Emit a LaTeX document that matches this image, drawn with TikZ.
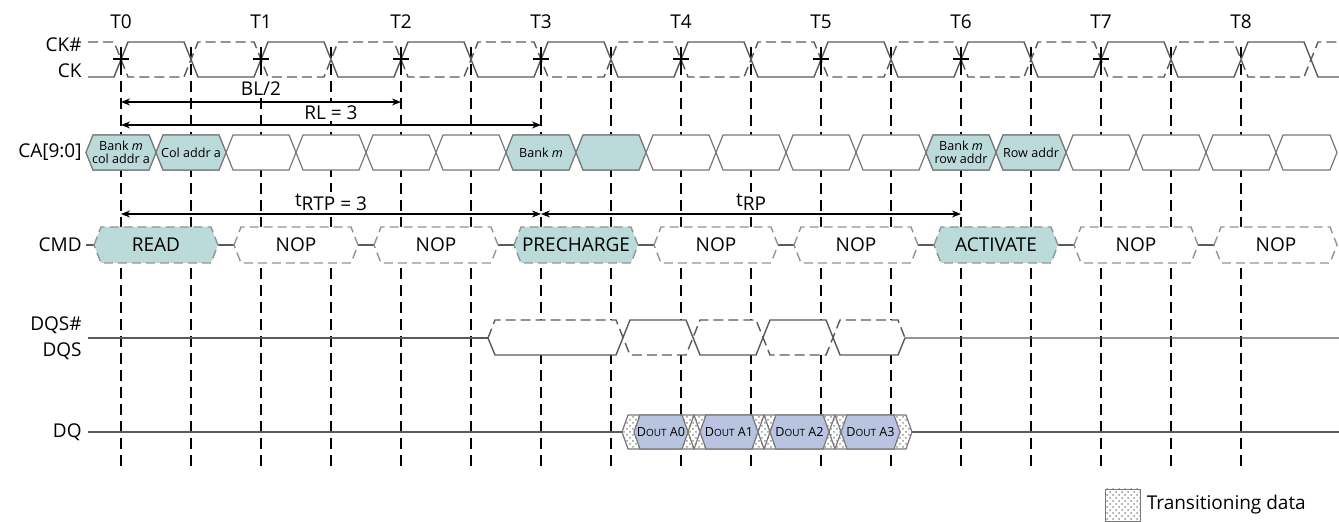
\documentclass[tikz,border=0pt]{standalone}
\usepackage{fontspec}
\setmainfont{Open Sans}
\usetikzlibrary{arrows.meta,patterns,positioning}

\definecolor{tealbox}{RGB}{186,219,218}
\definecolor{doutbox}{RGB}{185,197,224}
\definecolor{wavegray}{RGB}{90,90,90}
\definecolor{boxgray}{RGB}{120,120,120}

\begin{document}
\begin{tikzpicture}[x=0.5pt,y=-0.5pt,>={Stealth[length=4.5pt,width=3.5pt]},
    font=\fontsize{9.5}{11}\selectfont,
    sig/.style={anchor=east,inner sep=0pt},
    tline/.style={black,line width=0.7pt,dash pattern=on 5.5pt off 3pt},
    wave/.style={draw=wavegray,line width=0.7pt},
    wavedash/.style={wave,dash pattern=on 5pt off 2.5pt},
    cabox/.style={draw=boxgray,line width=0.6pt,fill=white},
    cmdbox/.style={draw=boxgray!80,line width=0.7pt,fill=white,dash pattern=on 4.5pt off 2.5pt},
    dim/.style={<->,black,line width=0.6pt},
    dimlabel/.style={fill=white,inner sep=1pt},
    small/.style={font=\fontsize{6.3}{6.7}\selectfont,inner sep=0pt,align=center},
    trans/.style={preaction={fill=white},pattern=crosshatch dots,pattern color=gray!85},
  ]
  \useasboundingbox (0,0) rectangle (1339,522);

  % clock labels and signal names
  \foreach \i in {0,...,8} \node (t\i) at (121+140*\i,22) {T\i};
  \node[sig] (ckn) at (82,45) {CK\#};
  \node[sig] (ck) at (82,71) {CK};
  \node[sig] (ca) at (82,152) {CA[9:0]};
  \node[sig] (cmd) at (82,245) {CMD};
  \node[sig] (dqsn) at (82,325) {DQS\#};
  \node[sig] (dqs) at (82,351) {DQS};
  \node[sig] (dq) at (82,432) {DQ};

  % edge lines
  \foreach \i in {0,...,16} \draw[tline] (121+70*\i,47) -- (121+70*\i,466);

  % CK / CK#
  \draw[wave] (88,77) \foreach \i in {0,...,8} {-- (114+140*\i,77) -- (128+140*\i,42) -- (184+140*\i,42) -- (198+140*\i,77)} -- (1339,77);
  \draw[wavedash] (88,42) \foreach \i in {0,...,8} {-- (114+140*\i,42) -- (128+140*\i,77) -- (184+140*\i,77) -- (198+140*\i,42)} -- (1339,42);
  \foreach \i in {0,...,7} \draw[black,line width=0.6pt] (113+140*\i,59) -- (129+140*\i,59) (121+140*\i,48) -- (121+140*\i,70);

  % CA bus
  \foreach \i in {0,...,16} \draw[cabox] (86+70*\i,152.5) -- (93+70*\i,135) -- (149+70*\i,135) -- (156+70*\i,152.5) -- (149+70*\i,170) -- (93+70*\i,170) -- cycle;
  \draw[cabox] (1276,152.5) -- (1283,135) -- (1330,135) -- (1337,152.5) -- (1330,170) -- (1283,170) -- cycle;
  \foreach \i/\txt in {0/{Bank \textit{m}\\col addr a},1/{Col addr a},6/{Bank \textit{m}},7/{},12/{Bank \textit{m}\\row addr},13/{Row addr}} {
    \draw[cabox,fill=tealbox] (86+70*\i,152.5) -- (93+70*\i,135) -- (149+70*\i,135) -- (156+70*\i,152.5) -- (149+70*\i,170) -- (93+70*\i,170) -- cycle;
    \node[small] (ca\i) at (121+70*\i,152.5) {\txt};
  }

  % timing arrows
  \coordinate (bl-l) at (121,102); \coordinate (bl-r) at (401,102);
  \coordinate (rl-l) at (121,125); \coordinate (rl-r) at (541,125);
  \coordinate (rtp-l) at (121,214); \coordinate (rtp-r) at (541,214);
  \coordinate (rp-r) at (961,214);
  \draw[dim] (bl-l) -- node[dimlabel,above=2pt] (bl) {BL/2} (bl-r);
  \draw[dim] (rl-l) -- node[dimlabel,above=1.5pt] (rl) {RL = 3} (rl-r);
  \draw[dim] (rtp-l) -- node[dimlabel,above=0.5pt] (rtp) {t\raisebox{-0.4ex}{RTP = 3}} (rtp-r);
  \draw[dim] (rtp-r) -- node[dimlabel,above=0.5pt] (rp) {t\raisebox{-0.4ex}{RP}} (rp-r);

  % CMD bus
  \draw[wave] (86,245) -- (94,245);
  \foreach \i in {0,...,7} \draw[wave] (218+140*\i,245) -- (234+140*\i,245);
  \foreach \i/\op/\fc in {0/READ/tealbox,1/NOP/white,2/NOP/white,3/PRECHARGE/tealbox,4/NOP/white,5/NOP/white,6/ACTIVATE/tealbox,7/NOP/white} {
    \draw[cmdbox,fill=\fc] (94+140*\i,245) -- (101+140*\i,227) -- (211+140*\i,227) -- (218+140*\i,245) -- (211+140*\i,263) -- (101+140*\i,263) -- cycle;
    \node (cmd\i) at (156+140*\i,245) {\op};
  }
  \draw[cmdbox] (1214,245) -- (1221,227) -- (1330,227) -- (1337,245) -- (1330,263) -- (1221,263) -- cycle;
  \node (cmd8) at (1276,245) {NOP};

  % DQS / DQS#
  \draw[wave] (88,338) -- (488,338);
  \fill[white] (488,338) -- (495,320) -- (898,320) -- (905,338) -- (898,355) -- (495,355) -- cycle;
  \draw[wavedash] (488,338) -- (495,320) -- (616,320) -- (630,355) -- (686,355) -- (700,320) -- (756,320) -- (770,355) -- (826,355) -- (840,320) -- (898,320) -- (905,338);
  \draw[wave] (488,338) -- (495,355) -- (616,355) -- (630,320) -- (686,320) -- (700,355) -- (756,355) -- (770,320) -- (826,320) -- (840,355) -- (898,355) -- (905,338) -- (1339,338);

  % DQ burst
  \draw[wave] (88,432) -- (622,432) (912,432) -- (1339,432);
  \fill[trans] (622,432) -- (628,415) -- (906,415) -- (912,432) -- (906,449) -- (628,449) -- cycle;
  \foreach \a/\b in {628/694,694/764,764/835,835/906}
    \draw[cabox,fill=none] (\a-6,432) -- (\a,415) -- (\b,415) -- (\b+6,432) -- (\b,449) -- (\a,449) -- cycle;
  \foreach \a/\b/\n in {628/694/0,694/764/1,764/835/2,835/906/3} {
    \draw[cabox,fill=doutbox] (\a+6,432) -- (\a+12,415) -- (\b-12,415) -- (\b-6,432) -- (\b-12,449) -- (\a+12,449) -- cycle;
    \node[small] (dout\n) at ({(\a+\b)/2},432) {D{\fontsize{5}{5}\selectfont OUT} A\n};
  }

  % legend
  \node[draw=boxgray,trans,minimum width=17.5pt,minimum height=16pt,inner sep=0pt] (legbox) at (1122.5,505) {};
  \node[right=3pt of legbox,inner sep=0pt] (legtxt) {Transitioning data};
\end{tikzpicture}
\end{document}
